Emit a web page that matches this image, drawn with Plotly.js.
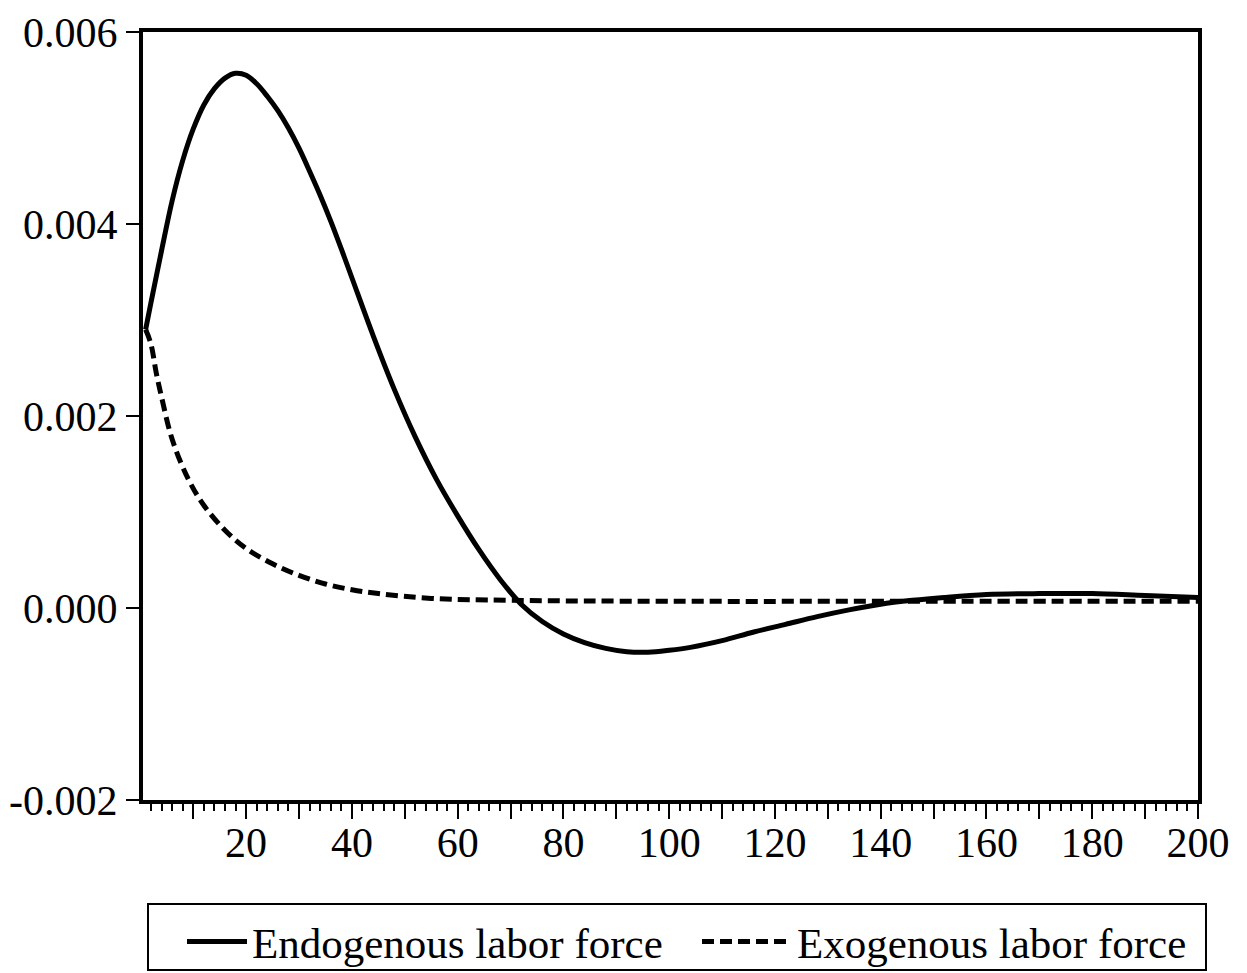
<!DOCTYPE html>
<html>
<head>
<meta charset="utf-8">
<script src="https://cdn.plot.ly/plotly-3.0.1.min.js"></script>
<style>html,body{margin:0;padding:0;background:#fff;}#chart{width:1247px;height:973px;}</style>
</head>
<body>
<div id="chart"></div>
<script>
// Periods and responses
var endoX = [1, 2, 4, 6, 8, 10, 12, 14, 16, 18, 20, 22, 24, 26, 28, 30, 32, 34, 36, 38, 40, 44, 48, 52, 56, 60, 64, 68, 72, 76, 80, 84, 88, 92, 96, 100, 104, 110, 116, 122, 128, 134, 140, 146, 152, 160, 170, 180, 190, 200];
var endoY = [0.0029, 0.00318, 0.00372, 0.00424, 0.00466, 0.00499, 0.00524, 0.00541, 0.00552, 0.00557, 0.00555, 0.00546, 0.00533, 0.00518, 0.005, 0.00479, 0.00455, 0.0043, 0.00403, 0.00374, 0.00344, 0.00284, 0.00228, 0.00178, 0.00134, 0.00096, 0.00061, 0.0003, 0.00004, -0.00014, -0.00027, -0.00036, -0.00042, -0.000455, -0.00046, -0.00044, -0.00041, -0.00034, -0.00025, -0.00017, -0.00009, -0.00002, 0.00004, 0.00008, 0.00011, 0.00014, 0.00015, 0.00015, 0.00013, 0.00011];
var exoX = [1, 2, 3, 4, 6, 9, 12, 16, 20, 25, 30, 35, 40, 45, 55, 70, 100, 150, 200];
var exoY = [0.0029, 0.00275, 0.00245, 0.0022, 0.00176, 0.00135, 0.00107, 0.00081, 0.00062, 0.00046, 0.00034, 0.00025, 0.00019, 0.00015, 0.0001, 0.00008, 0.00007, 0.00007, 0.00007];
var seriesNames = ["Endogenous labor force", "Exogenous labor force"];
var yTicks = [-0.002, 0.000, 0.002, 0.004, 0.006];
var yTickText = ["-0.002", "0.000", "0.002", "0.004", "0.006"];
var xLabelTicks = [20, 40, 60, 80, 100, 120, 140, 160, 180, 200];
var xLabelText = ["20", "40", "60", "80", "100", "120", "140", "160", "180", "200"];
var xMajorTicks = [10, 20, 30, 40, 50, 60, 70, 80, 90, 100, 110, 120, 130, 140, 150, 160, 170, 180, 190, 200];

var W = 1247, H = 973, ML = 143, MR = 49, MT = 32, MB = 173;
var PW = W - ML - MR, PH = H - MT - MB;
var font = "Liberation Serif, Times New Roman, serif";
var traces = [
  {x: endoX, y: endoY, name: seriesNames[0], type: "scatter", mode: "lines", xaxis: "x", yaxis: "y", legend: "legend",
   line: {color: "#000", width: 5, shape: "spline", smoothing: 1}},
  {x: exoX, y: exoY, name: seriesNames[1], type: "scatter", mode: "lines", xaxis: "x2", yaxis: "y", legend: "legend2",
   line: {color: "#000", width: 5, dash: "12px,6px", shape: "spline", smoothing: 1}}
];
var legFont = {family: font, size: 43, color: "#000"};
var legTop = 907;
var layout = {
  width: W, height: H,
  margin: {l: ML, r: MR, t: MT, b: MB},
  paper_bgcolor: "#fff", plot_bgcolor: "#fff",
  font: {family: font, color: "#000", size: 42},
  showlegend: true,
  legend: {orientation: "h", xref: "container", x: 182 / W, xanchor: "left",
    yref: "container", y: (H - legTop) / H, yanchor: "top",
    borderwidth: 0, bgcolor: "rgba(0,0,0,0)", itemwidth: 60, font: legFont},
  legend2: {orientation: "h", xref: "container", x: 697 / W, xanchor: "left",
    yref: "container", y: (H - legTop) / H, yanchor: "top",
    borderwidth: 0, bgcolor: "rgba(0,0,0,0)", itemwidth: 90, font: legFont},
  shapes: [{type: "rect", xref: "paper", yref: "paper", layer: "above",
    x0: (148 - ML) / PW, x1: (1206 - ML) / PW,
    y0: (H - MB - 970) / PH, y1: (H - MB - 904) / PH,
    line: {color: "#000", width: 2}, fillcolor: "rgba(0,0,0,0)"}],
  xaxis: {range: [0.5, 200], showgrid: false, zeroline: false,
    showline: true, linecolor: "#000", linewidth: 4, mirror: true,
    tickmode: "array", tickvals: xLabelTicks, ticktext: xLabelText,
    ticks: "", ticklabelstandoff: 3,
    tickfont: {family: font, size: 42, color: "#000"}},
  xaxis2: {matches: "x", overlaying: "x", anchor: "y", side: "bottom",
    showgrid: false, zeroline: false, showline: false, showticklabels: false,
    tickmode: "array", tickvals: xMajorTicks,
    ticks: "outside", ticklen: 18, tickwidth: 2, tickcolor: "#000",
    minor: {dtick: 2, tick0: 0, ticks: "outside", ticklen: 10, tickwidth: 2, tickcolor: "#000", showgrid: false}},
  yaxis: {range: [-0.002, 0.006], showgrid: false, zeroline: false,
    showline: true, linecolor: "#000", linewidth: 4, mirror: true,
    tickmode: "array", tickvals: yTicks, ticktext: yTickText,
    ticks: "outside", ticklen: 13, tickwidth: 2, tickcolor: "#000",
    tickfont: {family: font, size: 42, color: "#000"}}
};
Plotly.newPlot("chart", traces, layout, {displayModeBar: false, staticPlot: true});
</script>
</body>
</html>
